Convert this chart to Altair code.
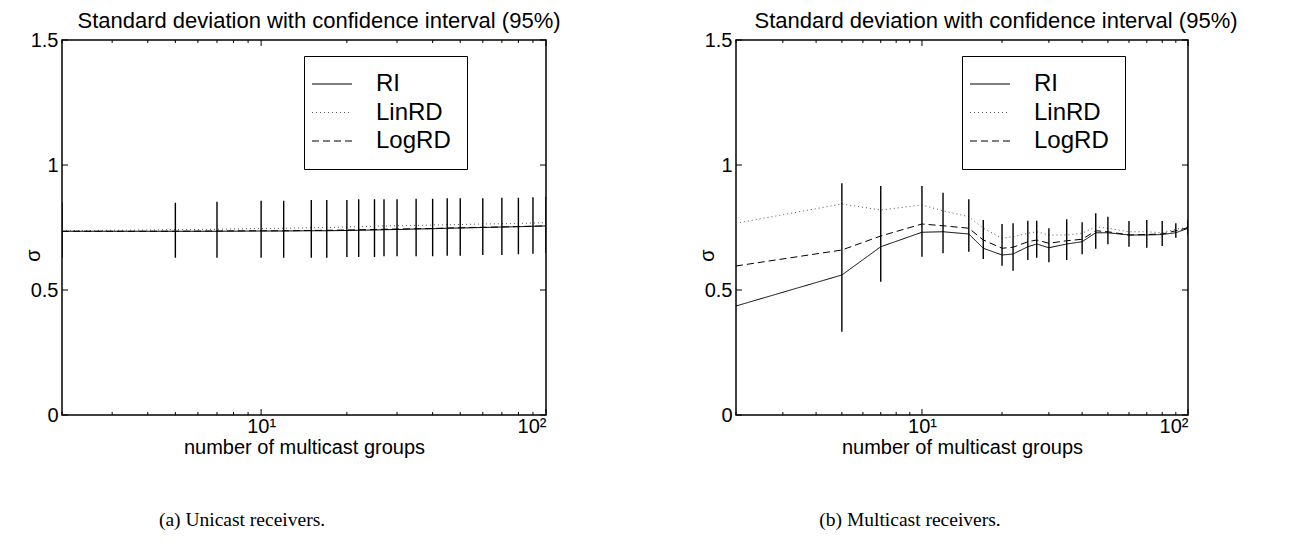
import altair as alt
import pandas as pd

# ---------------- data ----------------
x_groups = [2, 5, 7, 10, 12, 15, 17, 20, 22, 25, 27, 30, 35, 40, 45, 50, 60, 70, 80, 90, 100]
series_names = ["RI", "LinRD", "LogRD"]

# (a) unicast receivers
uni_ri = [0.735, 0.735, 0.735, 0.736, 0.736, 0.737, 0.737, 0.738, 0.739, 0.740, 0.741,
          0.742, 0.744, 0.745, 0.747, 0.748, 0.750, 0.752, 0.753, 0.755, 0.756]
uni_lin = [0.737, 0.741, 0.743, 0.746, 0.747, 0.749, 0.750, 0.752, 0.753, 0.755, 0.756,
           0.757, 0.758, 0.760, 0.761, 0.762, 0.764, 0.765, 0.766, 0.768, 0.769]
uni_log = [0.735, 0.735, 0.736, 0.737, 0.737, 0.738, 0.739, 0.740, 0.741, 0.742, 0.743,
           0.744, 0.745, 0.746, 0.748, 0.749, 0.751, 0.752, 0.754, 0.755, 0.757]
uni_lo = [0.630, 0.629, 0.629, 0.629, 0.629, 0.629, 0.629, 0.632, 0.632, 0.632, 0.635,
          0.635, 0.635, 0.635, 0.637, 0.637, 0.640, 0.640, 0.643, 0.645, 0.647]
uni_hi = [0.850, 0.849, 0.853, 0.857, 0.857, 0.860, 0.860, 0.860, 0.863, 0.863, 0.863,
          0.863, 0.865, 0.865, 0.867, 0.867, 0.867, 0.869, 0.869, 0.871, 0.873]

# (b) multicast receivers
multi_ri = [0.436, 0.560, 0.673, 0.731, 0.733, 0.724, 0.667, 0.640, 0.644, 0.673, 0.684,
            0.669, 0.684, 0.693, 0.729, 0.729, 0.720, 0.720, 0.722, 0.729, 0.747]
multi_lin = [0.767, 0.844, 0.820, 0.840, 0.817, 0.793, 0.747, 0.707, 0.713, 0.727, 0.733,
             0.720, 0.720, 0.727, 0.753, 0.747, 0.733, 0.733, 0.729, 0.743, 0.751]
multi_log = [0.596, 0.660, 0.716, 0.764, 0.757, 0.747, 0.700, 0.667, 0.671, 0.693, 0.700,
             0.687, 0.697, 0.703, 0.737, 0.733, 0.720, 0.722, 0.724, 0.737, 0.749]
multi_lo = [None, 0.333, 0.533, 0.633, 0.647, 0.653, 0.624, 0.597, 0.577, 0.620, 0.629,
            0.611, 0.620, 0.643, 0.665, 0.683, 0.673, 0.669, 0.676, 0.709, 0.720]
multi_hi = [None, 0.927, 0.916, 0.916, 0.889, 0.863, 0.780, 0.764, 0.767, 0.777, 0.777,
            0.747, 0.783, 0.771, 0.807, 0.793, 0.776, 0.780, 0.776, 0.767, 0.780]

y_ticks = [0, 0.5, 1, 1.5]
x_major = [10, 100]
x_minor = [2, 3, 4, 5, 6, 7, 8, 9, 20, 30, 40, 50, 60, 70, 80, 90]

title_text = "Standard deviation with confidence interval (95%)"
x_title = "number of multicast groups"
y_title = "σ"
captions = ["(a) Unicast receivers.", "(b) Multicast receivers."]

H = 375
FONT = "Liberation Sans"


def panel(ri, lin, log, lo, hi, W, caption, cap_dx, legend_x, title_dx):
    rows = []
    for name, vals in zip(series_names, [ri, lin, log]):
        for xv, v in zip(x_groups, vals):
            rows.append({"x": xv, "sigma": v, "series": name})
    df = pd.DataFrame(rows)
    eb = pd.DataFrame({"x": x_groups, "lo": lo, "hi": hi}).dropna()

    xs = alt.Scale(type="log", domain=[2, 100], nice=False)
    ys = alt.Scale(domain=[0, 1.5], nice=False, zero=False)

    ax_x = alt.Axis(
        values=x_major, labelExpr="datum.value == 10 ? '10¹' : '10²'",
        title=x_title, ticks=False, domain=False, grid=False,
        labelFontSize=20, titleFontSize=20, labelFont=FONT, titleFont=FONT,
        titleFontWeight="normal", labelPadding=1, titlePadding=1,
        labelColor="black", titleColor="black")
    ax_y = alt.Axis(
        values=y_ticks, format="~g", title=y_title, ticks=False, domain=False,
        grid=False, labelFontSize=20, titleFontSize=20, labelFont=FONT,
        titleFont=FONT, titleFontWeight="normal", labelPadding=4,
        titleX=-19, titleY=215, titleAngle=270,
        labelColor="black", titleColor="black")

    leg = alt.Legend(
        title=None, orient="none", legendX=legend_x, legendY=16,
        strokeColor="black", fillColor="white", padding=16,
        symbolType="M-2,0H2", symbolSize=400, symbolStrokeWidth=1,
        labelFontSize=24, labelFont=FONT, labelOffset=32, rowPadding=4.5,
        labelColor="black",
    )

    lines = alt.Chart(df).mark_line(strokeWidth=1, clip=True).encode(
        x=alt.X("x:Q", scale=xs, axis=ax_x),
        y=alt.Y("sigma:Q", scale=ys, axis=ax_y),
        color=alt.Color("series:N", scale=alt.Scale(domain=series_names,
                        range=["black", "#555555", "black"]), legend=leg),
        strokeDash=alt.StrokeDash("series:N", scale=alt.Scale(domain=series_names,
                                  range=[[1, 0], [1, 3], [7, 4]]), legend=leg),
    )

    bars = alt.Chart(eb).mark_rule(color="black", strokeWidth=1.4, clip=True).encode(
        x=alt.X("x:Q", scale=xs, axis=ax_x),
        y=alt.Y("lo:Q", scale=ys, axis=ax_y),
        y2="hi:Q",
    )

    maj = pd.DataFrame({"x": x_major})
    mino = pd.DataFrame({"x": x_minor})
    yt = pd.DataFrame({"y": y_ticks})

    def xtick(d, y0, y1):
        return alt.Chart(d).mark_rule(color="black", strokeWidth=1).encode(
            x=alt.X("x:Q", scale=xs, axis=ax_x), y=alt.value(y0), y2=alt.value(y1))

    def ytick(x0, x1):
        return alt.Chart(yt).mark_rule(color="black", strokeWidth=1).encode(
            y=alt.Y("y:Q", scale=ys, axis=ax_y), x=alt.value(x0), x2=alt.value(x1))

    ticks = [xtick(maj, H, H - 6), xtick(mino, H, H - 3),
             xtick(maj, 0, 6), xtick(mino, 0, 3),
             ytick(0, 6), ytick(W - 6, W)]

    cap = alt.Chart(pd.DataFrame({"caption": [caption]})).mark_text(
        font="Liberation Serif", fontSize=19.5, color="black", align="center",
        baseline="middle").encode(
        text="caption:N", x=alt.value(W / 2 + cap_dx), y=alt.value(H + 105))

    return alt.layer(lines, bars, *ticks, cap).properties(
        width=W, height=H,
        title=alt.TitleParams(title_text, fontSize=22, font=FONT, fontWeight="normal",
                              color="black", offset=-3, dx=title_dx),
    )


left = panel(uni_ri, uni_lin, uni_log, uni_lo, uni_hi, 484, captions[0], -62, 242, 15)
right = panel(multi_ri, multi_lin, multi_log, multi_lo, multi_hi, 452, captions[1], -52, 226, 34)

chart = alt.hconcat(left, right, spacing=134).resolve_scale(
    color="independent", strokeDash="independent"
).resolve_legend(color="independent", strokeDash="independent").properties(
    padding={"left": 14, "top": 1, "right": 5, "bottom": 0}
).configure(background="white").configure_view(stroke="black", strokeWidth=1.5)

chart.save("out.html", embed_options={"renderer": "svg", "actions": False})
